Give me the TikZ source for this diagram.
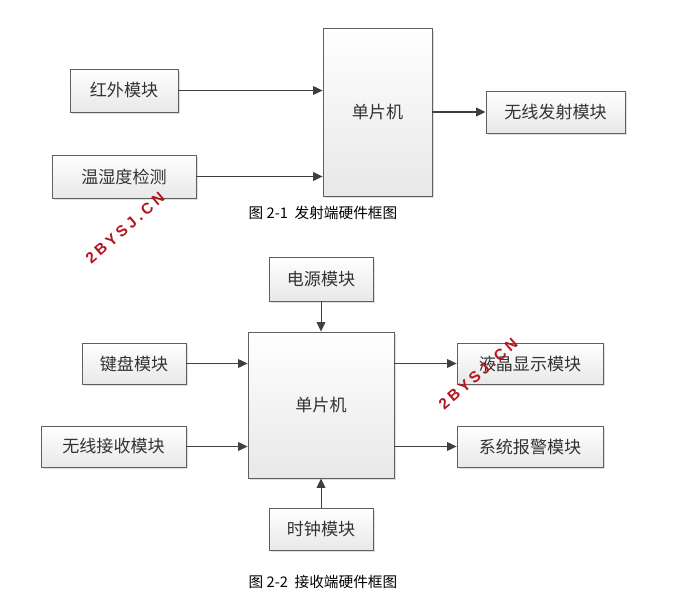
\documentclass[tikz,border=0pt]{standalone}
\usepackage{fontspec}
\setmainfont{Noto Sans CJK SC}
\newfontfamily\markfont[LetterSpace=22]{Liberation Sans}
\usetikzlibrary{positioning, calc, arrows.meta, shadows}
\definecolor{lineGray}{RGB}{95, 95, 95}
\definecolor{arrowGray}{RGB}{64, 64, 64}
\definecolor{markRed}{RGB}{180, 20, 30}

\begin{document}
\begin{tikzpicture}[x=0.75pt, y=-0.75pt,
          blk/.style={draw=lineGray, line width=0.65pt, top color=white, bottom color=black!9,
                      drop shadow={shadow xshift=1.5pt, shadow yshift=-1.5pt, fill=black!30, opacity=0.4},
                      align=center, font=\fontsize{12.8}{14}\selectfont, text=black!80, inner sep=0pt},
          sz/.style args={#1x#2}{minimum width=#1*0.75pt, minimum height=#2*0.75pt},
          arr/.style={-{Triangle[length=7pt, width=6.5pt]}, arrowGray, line width=0.75pt},
          figcap/.style={font=\fontsize{11}{13}\selectfont},
          wmark/.style={font=\markfont\bfseries\fontsize{11.5}{12}\selectfont, text=markRed, inner sep=0pt}
        ]
        \useasboundingbox[fill=white] (0,0) rectangle (693,615);

        % Fig 2-1: transmitter
        \node[blk, sz=109x168] (mcuA) at (377.5,112)  {单片机};
        \node[blk, sz=108x43]  (ir)   at (124,90.5)   {红外模块};
        \node[blk, sz=144x43]  (th)   at (124,176.5)  {温湿度检测};
        \node[blk, sz=139x42]  (tx)   at (555.5,112)  {无线发射模块};
        \node[figcap] (capA) at (323,213) {图 2-1\ \ 发射端硬件框图};

        \draw[arr] (ir.east) -- (ir.east -| mcuA.west);
        \draw[arr] (th.east) -- (th.east -| mcuA.west);
        \draw[arr, line width=1.1pt] (mcuA.east) -- (tx.west);

        % Fig 2-2: receiver
        \node[blk, sz=146x146] (mcuB)  at (321,405)    {单片机};
        \node[blk, sz=104x44]  (pwr)   at (321,279)    {电源模块};
        \node[blk, sz=104x42]  (clk)   at (321,529)    {时钟模块};
        \node[blk, sz=104x41]  (key)   at (134,363.5)  {键盘模块};
        \node[blk, sz=145x41]  (rx)    at (113.5,446.5) {无线接收模块};
        \node[blk, sz=146x41]  (lcd)   at (530,363.5)  {液晶显示模块};
        \node[blk, sz=146x41]  (alarm) at (530,446.5)  {系统报警模块};
        \node[figcap] (capB) at (323,582) {图 2-2\ \ 接收端硬件框图};

        \draw[arr] (pwr.south) -- (pwr.south |- mcuB.north);
        \draw[arr] (clk.north) -- (clk.north |- mcuB.south);
        \draw[arr] (key.east) -- (key.east -| mcuB.west);
        \draw[arr] (rx.east) -- (rx.east -| mcuB.west);
        \draw[arr] (lcd.west -| mcuB.east) -- (lcd.west);
        \draw[arr] (alarm.west -| mcuB.east) -- (alarm.west);

        % watermarks
        \node[wmark, rotate=41] (wmA) at (125,228) {2BYSJ.CN};
        \node[wmark, rotate=41] (wmB) at (478,374) {2BYSJ.CN};
      \end{tikzpicture}
\end{document}
